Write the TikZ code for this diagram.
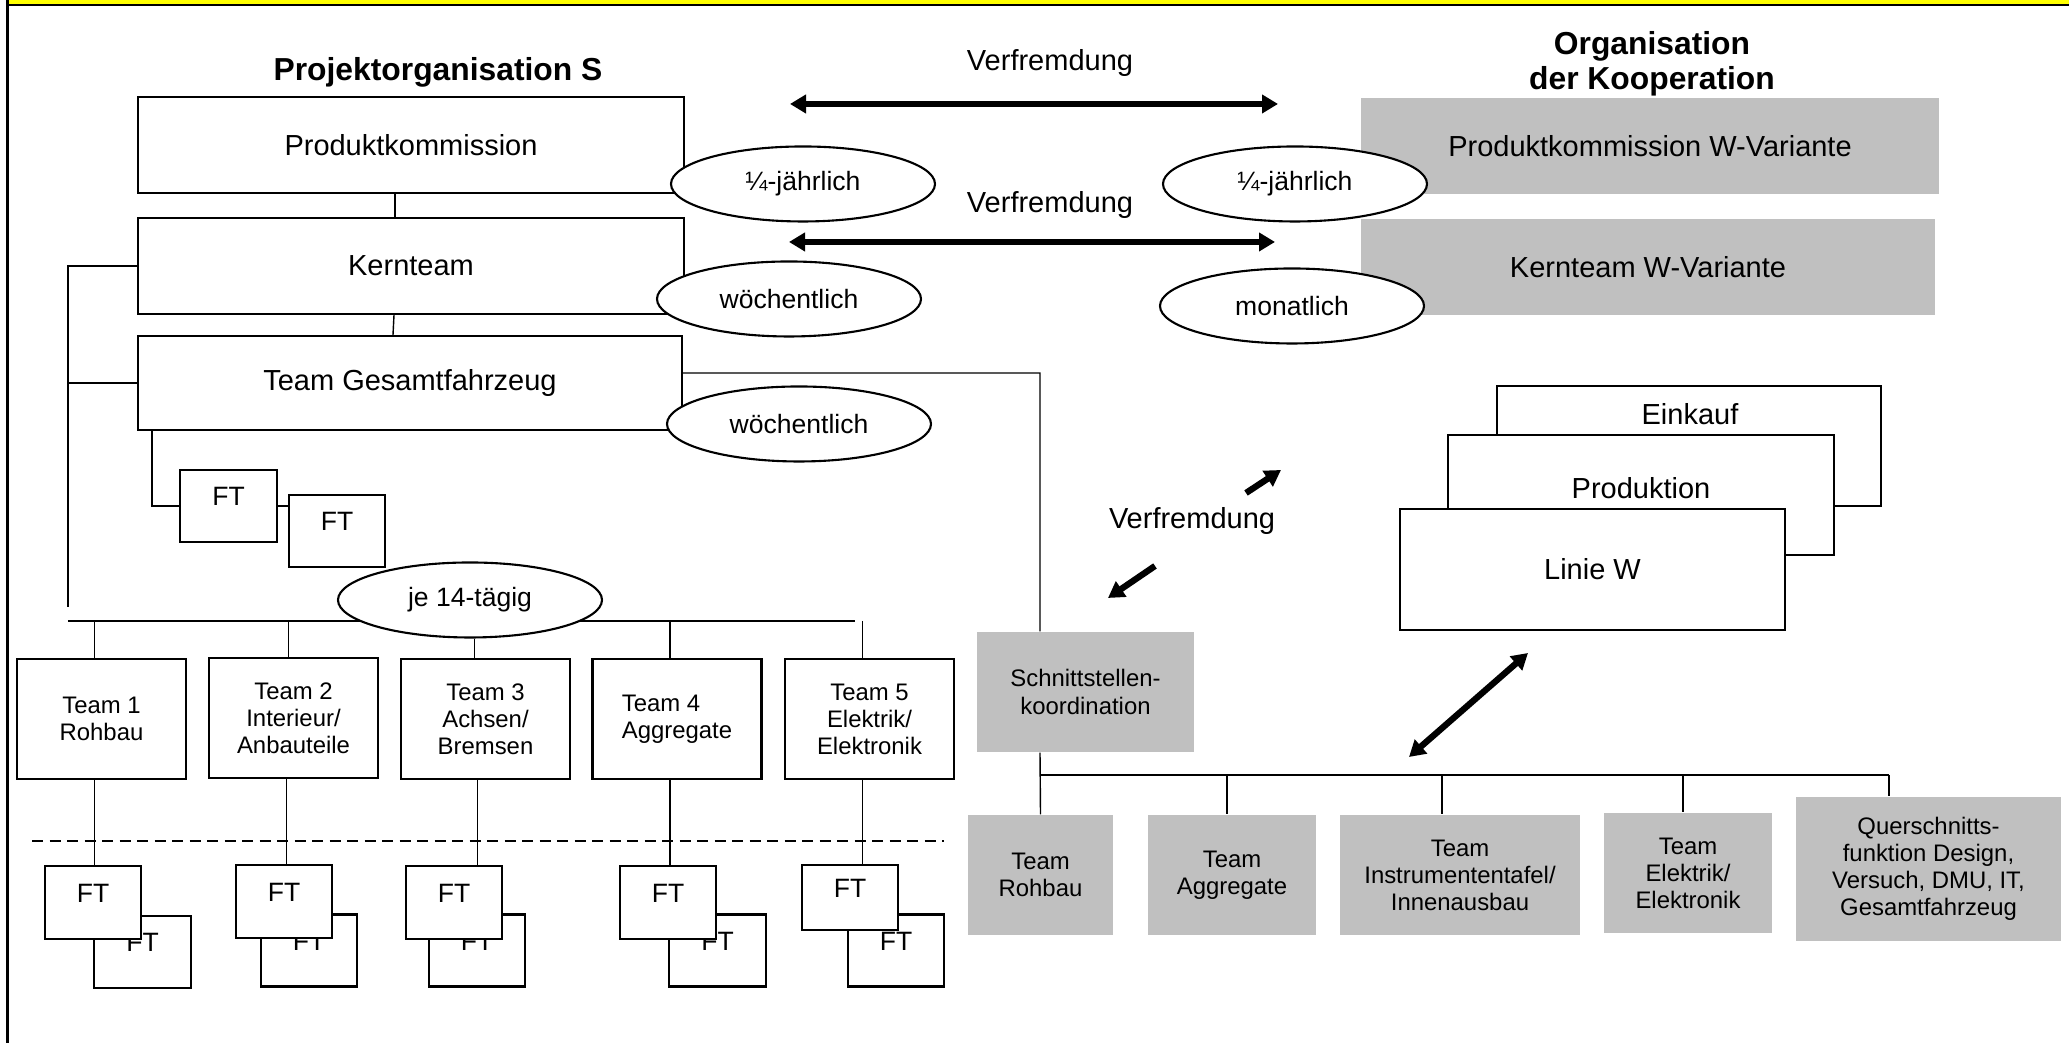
\documentclass[tikz,border=0pt]{standalone}
\usepackage{fontspec}
\setmainfont{Liberation Sans}
\usetikzlibrary{shapes.geometric,arrows.meta}

\definecolor{r255g255b0}{rgb}{1.000000,1.000000,0.000000}
\definecolor{r192g192b192}{rgb}{0.752941,0.752941,0.752941}

\newcommand{\mainsize}{\fontsize{8.25}{9.5}\selectfont}
\newcommand{\ellsize}{\fontsize{7.55}{8.6}\selectfont}
\newcommand{\teamsize}{\fontsize{6.8}{7.7}\selectfont}
\newcommand{\headsize}{\fontsize{9.05}{9.8}\selectfont\bfseries}

\tikzset{
  box/.style={draw, line width=0.6pt, fill=white, inner sep=0pt, font=\mainsize},
  greybox/.style={fill=r192g192b192, inner sep=0pt, align=center, font=\teamsize},
  ftbox/.style={draw, line width=0.6pt, fill=white, minimum width=0.96cm, minimum height=0.72cm,
                inner sep=0pt, font=\ellsize, text height=2.0mm, text depth=2.0mm},
  teambox/.style={draw, line width=0.6pt, fill=white, minimum width=1.69cm, minimum height=1.20cm,
                  inner sep=0pt, align=center, font=\teamsize},
  freq/.style={ellipse, draw, line width=0.6pt, fill=white, minimum width=2.64cm,
               minimum height=0.75cm, inner sep=0pt, font=\ellsize},
  plaintext/.style={inner sep=0pt, font=\mainsize},
  conn/.style={line width=0.4pt},
  bus/.style={line width=0.6pt},
  bigarrow/.style={line width=1.8pt, {Triangle[length=1.6mm,width=1.8mm]}-{Triangle[length=1.6mm,width=1.8mm]}},
  onearrow/.style={line width=1.8pt, -{Triangle[length=1.6mm,width=1.8mm]}}
}

\begin{document}
\begin{tikzpicture}
                        \useasboundingbox (0,0) rectangle (20.690000,10.430000);

                        % Frame with yellow band
                        \fill [r255g255b0] (0.080000,10.430000) rectangle (20.690000,10.385000);%
                        \draw [line width=0.57pt] (0.065000,10.375000) -- (20.690000,10.375000);%
                        \draw [line width=0.57pt] (0.075000,0.000000) -- (0.075000,10.430000);%

                        % Headings
                        \draw (4.380000,9.710000) node [inner sep=0pt, font=\headsize] (projS) {Projektorganisation S};%
                        \draw (16.520000,9.790000) node [inner sep=0pt, font=\headsize, align=center] (orgkoop) {Organisation\\der Kooperation};%
                        \draw (10.500000,9.800000) node [plaintext] (verfrA) {Verfremdung};%
                        \draw (10.500000,8.380000) node [plaintext] (verfrB) {Verfremdung};%
                        \draw (11.920000,5.220000) node [plaintext] (verfrC) {Verfremdung};%

                        % Drawing boxes of Projektorganisation S
                        \draw (4.110000,8.980000) node [box, minimum width=5.46cm, minimum height=0.96cm] (prodkom) {Produktkommission};%
                        \draw (4.110000,7.770000) node [box, minimum width=5.46cm, minimum height=0.96cm] (kernteam) {Kernteam};%
                        \draw (4.100000,6.600000) node [box, minimum width=5.44cm, minimum height=0.94cm] (gesamt) {Team Gesamtfahrzeug};%

                        % Drawing boxes of the Kooperation
                        \draw (16.500000,8.970000) node [greybox, font=\mainsize, minimum width=5.78cm, minimum height=0.96cm] (prodkomW) {Produktkommission W-Variante};%
                        \draw (16.480000,7.760000) node [greybox, font=\mainsize, minimum width=5.74cm, minimum height=0.96cm] (kernteamW) {Kernteam W-Variante};%

                        % Line from Produktkommission down to Team Gesamtfahrzeug
                        \draw [conn] ([xshift=-0.16cm]prodkom.south) -- ([xshift=-0.16cm]kernteam.north);%
                        \draw [conn] ([xshift=-0.17cm]kernteam.south) -- ([xshift=-0.17cm]gesamt.north);%

                        % Left bus
                        \coordinate (lbtop) at (0.680000,7.770000);
                        \coordinate (lbbot) at (0.680000,4.360000);
                        \draw [bus] (kernteam.west) -- (lbtop) -- (lbbot);%
                        \draw [bus] (gesamt.west) -- (gesamt.west -| lbtop);%

                        % Two FT below Team Gesamtfahrzeug
                        \draw (2.285000,5.370000) node [ftbox, minimum width=0.97cm] (ftA) {FT};%
                        \draw (3.370000,5.120000) node [ftbox] (ftB) {FT};%
                        \coordinate (ftknee) at (1.520000,5.370000);
                        \draw [conn] (ftknee |- gesamt.south) -- (ftknee) -- (ftA.west);%
                        \draw [conn] (ftA.east) -- (ftA.east -| ftB.west);%

                        % Arrows Verfremdung
                        \coordinate (aAl) at (7.900000,9.390000);
                        \coordinate (aAr) at (12.780000,9.390000);
                        \coordinate (aBl) at (7.890000,8.010000);
                        \coordinate (aBr) at (12.750000,8.010000);
                        \draw [bigarrow] (aAl) -- (aAr);%
                        \draw [bigarrow] (aBl) -- (aBr);%
                        \coordinate (aCs) at (12.460000,5.500000);
                        \coordinate (aCe) at (12.810000,5.730000);
                        \coordinate (aDs) at (11.550000,4.770000);
                        \coordinate (aDe) at (11.080000,4.450000);
                        \draw [onearrow] (aCs) -- (aCe);%
                        \draw [onearrow] (aDs) -- (aDe);%

                        % Drawing ellipses (meetings)
                        \draw (8.030000,8.590000) node [freq] (quartL) {¼-jährlich};%
                        \draw (7.890000,7.440000) node [freq] (weekA) {wöchentlich};%
                        \draw (7.990000,6.190000) node [freq] (weekB) {wöchentlich};%
                        \draw (12.950000,8.590000) node [freq] (quartR) {¼-jährlich};%
                        \draw (12.920000,7.370000) node [freq] (month) {monatlich};%

                        % Team bus
                        \coordinate (busL) at (0.680000,4.220000);
                        \coordinate (busR) at (8.550000,4.220000);
                        \draw [bus] (busL) -- (busR);%

                        % Drawing teams 1 to 5
                        \draw (1.015000,3.240000) node [teambox] (team1) {Team 1\\Rohbau};%
                        \draw (2.935000,3.250000) node [teambox] (team2) {Team 2\\Interieur/\\Anbauteile};%
                        \draw (4.855000,3.240000) node [teambox] (team3) {Team 3\\Achsen/\\Bremsen};%
                        \draw (6.770000,3.240000) node [teambox, align=left] (team4) {Team 4\\Aggregate};%
                        \draw (8.695000,3.240000) node [teambox] (team5) {Team 5\\Elektrik/\\Elektronik};%

                        \draw [conn] ([xshift=-0.07cm]team1.north |- busL) -- ([xshift=-0.07cm]team1.north);%
                        \draw [conn] ([xshift=-0.05cm]team2.north |- busL) -- ([xshift=-0.05cm]team2.north);%
                        \draw [conn] ([xshift=-0.07cm]team4.north |- busL) -- ([xshift=-0.07cm]team4.north);%
                        \draw [conn] ([xshift=-0.07cm]team5.north |- busL) -- ([xshift=-0.07cm]team5.north);%

                        % Ellipse on the team bus
                        \draw (4.700000,4.430000) node [freq] (fortnight) {je 14-tägig};%
                        \draw [conn] ([xshift=-0.11cm]team3.north |- fortnight.south) -- ([xshift=-0.11cm]team3.north);%

                        % Dashed line
                        \draw [conn, dash pattern=on 1.1mm off 0.65mm] (0.320000,2.020000) -- (9.440000,2.020000);%

                        % Drawing FT pairs below teams
                        \draw (1.425000,0.910000) node [ftbox, minimum width=0.97cm] (ft1b) {FT};%
                        \draw (0.930000,1.405000) node [ftbox, minimum height=0.73cm] (ft1a) {FT};%
                        \draw (3.090000,0.925000) node [ftbox] (ft2b) {FT};%
                        \draw (2.840000,1.415000) node [ftbox, minimum height=0.73cm] (ft2a) {FT};%
                        \draw (4.770000,0.925000) node [ftbox] (ft3b) {FT};%
                        \draw (4.540000,1.405000) node [ftbox, minimum height=0.73cm] (ft3a) {FT};%
                        \draw (7.175000,0.925000) node [ftbox, minimum width=0.97cm] (ft4b) {FT};%
                        \draw (6.680000,1.405000) node [ftbox, minimum height=0.73cm] (ft4a) {FT};%
                        \draw (8.960000,0.925000) node [ftbox] (ft5b) {FT};%
                        \draw (8.500000,1.455000) node [ftbox, minimum height=0.65cm] (ft5a) {FT};%

                        \draw [conn] ([xshift=-0.07cm]team1.south) -- ([xshift=-0.07cm]team1.south |- ft1a.north);%
                        \draw [conn] ([xshift=-0.07cm]team2.south) -- ([xshift=-0.07cm]team2.south |- ft2a.north);%
                        \draw [conn] ([xshift=-0.08cm]team3.south) -- ([xshift=-0.08cm]team3.south |- ft3a.north);%
                        \draw [conn] ([xshift=-0.07cm]team4.south) -- ([xshift=-0.07cm]team4.south |- ft4a.north);%
                        \draw [conn] ([xshift=-0.07cm]team5.south) -- ([xshift=-0.07cm]team5.south |- ft5a.north);%

                        % Drawing Linie W stack
                        \draw (16.890000,5.970000) node [box, minimum width=3.84cm, minimum height=1.20cm] (einkauf) {};%
                        \draw (16.900000,6.290000) node [plaintext] (einkaufT) {Einkauf};%
                        \draw (16.410000,5.480000) node [box, minimum width=3.86cm, minimum height=1.20cm] (produktion) {};%
                        \draw (16.410000,5.550000) node [plaintext] (produktionT) {Produktion};%
                        \draw (15.925000,4.735000) node [box, minimum width=3.85cm, minimum height=1.21cm] (linieW) {Linie W};%

                        % Drawing Schnittstellenkoordination
                        \draw (10.855000,3.510000) node [greybox, minimum width=2.17cm, minimum height=1.20cm] (schnitt) {Schnittstellen-\\koordination};%
                        \coordinate (sknee) at (10.400000,6.700000);
                        \draw [conn] ([yshift=0.1cm]gesamt.east) -- (sknee) -- (sknee |- schnitt.north);%

                        % Drawing grey teams
                        \draw (10.405000,1.680000) node [greybox, minimum width=1.45cm, minimum height=1.20cm] (gteam1) {Team\\Rohbau};%
                        \draw (12.320000,1.680000) node [greybox, minimum width=1.68cm, minimum height=1.20cm] (gteam2) {Team\\Aggregate};%
                        \draw (14.600000,1.680000) node [greybox, minimum width=2.40cm, minimum height=1.20cm] (gteam3) {Team\\Instrumententafel/\\Innenausbau};%
                        \draw (16.880000,1.700000) node [greybox, minimum width=1.68cm, minimum height=1.20cm] (gteam4) {Team\\Elektrik/\\Elektronik};%
                        \draw (19.285000,1.740000) node [greybox, minimum width=2.65cm, minimum height=1.44cm] (gteam5) {Querschnitts-\\funktion Design,\\Versuch, DMU, IT,\\Gesamtfahrzeug};%

                        % Right bus
                        \coordinate (rbusL) at (10.400000,2.680000);
                        \coordinate (rbusR) at (18.890000,2.680000);
                        \draw [conn] (sknee |- schnitt.south) -- (gteam1.north);%
                        \draw [bus] (rbusL) -- (rbusR);%
                        \draw [conn] ([xshift=-0.05cm]gteam2.north |- rbusL) -- ([xshift=-0.05cm]gteam2.north);%
                        \draw [conn] ([xshift=-0.18cm]gteam3.north |- rbusL) -- ([xshift=-0.18cm]gteam3.north);%
                        \draw [conn] ([xshift=-0.05cm]gteam4.north |- rbusL) -- ([xshift=-0.05cm]gteam4.north);%
                        \draw [conn] (rbusR) -- (rbusR |- gteam5.north);%

                        % Arrow between teams and Linie W
                        \coordinate (aEs) at (14.090000,2.860000);
                        \coordinate (aEe) at (15.280000,3.900000);
                        \draw [bigarrow] (aEs) -- (aEe);%
\end{tikzpicture}
\end{document}
